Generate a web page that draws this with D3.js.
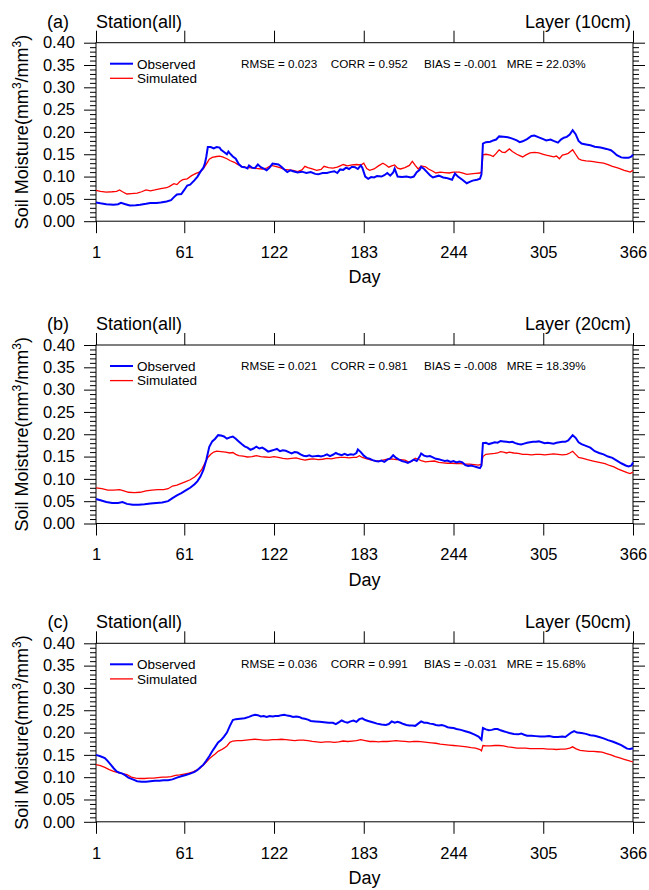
<!DOCTYPE html>
<html>
<head>
<meta charset="utf-8">
<script src="https://cdn.jsdelivr.net/npm/d3@7"></script>
<style>
  body { margin: 0; background: #fff; }
  svg { display: block; font-family: "Liberation Sans", Arial, Helvetica, sans-serif; }
</style>
</head>
<body>
<div id="chart"></div>
<script>
const WIDTH = 649;
const HEIGHT = 890;

const DAY_TICKS = [1, 61, 122, 183, 244, 305, 366];
const Y_TICKS = [0, 0.05, 0.10, 0.15, 0.20, 0.25, 0.30, 0.35, 0.40];
const Y_MINOR = [0.01,0.02,0.03,0.04,0.06,0.07,0.08,0.09,0.11,0.12,0.13,0.14,0.16,0.17,0.18,0.19,
  0.21,0.22,0.23,0.24,0.26,0.27,0.28,0.29,0.31,0.32,0.33,0.34,0.36,0.37,0.38,0.39];

const PANEL_TAGS = ["(a)", "(b)", "(c)"];
const LAYERS = ["Layer (10cm)", "Layer (20cm)", "Layer (50cm)"];
const SERIES_NAMES = ["Observed", "Simulated"];
const STATS = [
  ["RMSE = 0.023", "CORR = 0.952", "BIAS = -0.001", "MRE = 22.03%"],
  ["RMSE = 0.021", "CORR = 0.981", "BIAS = -0.008", "MRE = 18.39%"],
  ["RMSE = 0.036", "CORR = 0.991", "BIAS = -0.031", "MRE = 15.68%"]
];

// [day, soil moisture]
const obs10 = [[1,.042],[4,.040],[8,.038],[13,.037],[16,.038],[18,.041],[21,.038],[24,.035],[28,.036],[31,.037],[35,.039],[38,.041],[42,.041],[45,.042],[49,.044],[52,.047],[54,.054],[56,.060],[59,.061],[61,.070],[63,.080],[65,.082],[68,.092],[70,.100],[72,.111],[74,.120],[75,.129],[76,.145],[77,.166],[79,.166],[81,.163],[83,.166],[85,.165],[86,.160],[88,.155],[90,.150],[91,.156],[92,.152],[94,.145],[96,.140],[98,.128],[100,.122],[102,.121],[104,.118],[105,.125],[107,.120],[109,.119],[111,.127],[113,.121],[115,.118],[117,.114],[119,.120],[121,.129],[123,.128],[125,.127],[127,.122],[129,.116],[131,.110],[133,.114],[135,.112],[138,.109],[141,.111],[144,.108],[147,.110],[150,.106],[152,.105],[155,.108],[158,.108],[160,.110],[163,.112],[165,.108],[167,.116],[169,.115],[171,.120],[173,.117],[175,.122],[177,.121],[179,.117],[181,.125],[182,.120],[184,.100],[186,.095],[188,.099],[190,.098],[192,.101],[195,.100],[197,.103],[199,.108],[201,.102],[203,.109],[204,.118],[206,.100],[209,.099],[212,.100],[215,.098],[217,.100],[219,.110],[221,.115],[222,.122],[224,.117],[226,.110],[228,.103],[230,.098],[232,.100],[234,.102],[237,.098],[239,.097],[241,.095],[243,.093],[245,.107],[247,.100],[250,.093],[253,.085],[255,.088],[257,.091],[260,.093],[262,.095],[263,.105],[264,.174],[266,.177],[269,.178],[271,.181],[273,.183],[275,.190],[278,.189],[281,.188],[284,.185],[287,.181],[289,.177],[291,.179],[294,.184],[297,.191],[299,.192],[302,.188],[305,.184],[307,.181],[310,.183],[312,.180],[315,.176],[317,.183],[319,.187],[321,.189],[323,.194],[325,.204],[327,.195],[329,.180],[331,.174],[334,.172],[337,.170],[340,.167],[344,.165],[348,.162],[351,.159],[353,.154],[355,.148],[358,.143],[360,.142],[363,.142],[365,.145],[366,.149]];
const sim10 = [[1,.069],[4,.067],[8,.065],[12,.066],[15,.067],[17,.070],[19,.066],[22,.061],[25,.062],[29,.063],[32,.066],[35,.070],[38,.068],[41,.070],[45,.073],[49,.075],[51,.078],[54,.084],[56,.082],[58,.089],[60,.093],[63,.095],[66,.102],[69,.107],[72,.111],[74,.118],[76,.128],[78,.139],[80,.143],[83,.145],[85,.146],[87,.144],[90,.140],[92,.136],[95,.132],[97,.128],[100,.123],[102,.121],[105,.120],[108,.119],[111,.118],[114,.117],[117,.119],[120,.125],[123,.123],[126,.120],[129,.116],[132,.115],[135,.114],[138,.111],[141,.115],[143,.123],[145,.120],[148,.117],[151,.114],[154,.116],[156,.123],[159,.120],[162,.119],[165,.121],[167,.124],[169,.127],[172,.124],[175,.126],[178,.127],[181,.126],[183,.130],[185,.118],[187,.114],[190,.117],[193,.124],[196,.130],[198,.126],[200,.121],[202,.124],[204,.126],[206,.119],[208,.117],[211,.120],[214,.125],[216,.134],[218,.125],[220,.117],[222,.124],[225,.122],[227,.117],[230,.112],[232,.108],[235,.110],[238,.109],[241,.108],[244,.110],[248,.110],[251,.107],[253,.105],[256,.106],[259,.107],[262,.108],[263,.110],[264,.149],[266,.150],[269,.148],[271,.145],[273,.152],[275,.160],[277,.155],[279,.154],[282,.162],[284,.156],[287,.150],[289,.147],[291,.144],[293,.148],[296,.153],[299,.154],[302,.153],[305,.150],[307,.148],[310,.146],[312,.144],[314,.146],[316,.140],[318,.148],[320,.150],[322,.152],[325,.160],[327,.150],[329,.140],[331,.137],[334,.135],[338,.134],[342,.132],[346,.130],[349,.127],[352,.123],[355,.120],[357,.118],[360,.114],[362,.112],[364,.110],[366,.114]];

const obs20 = [[1,.055],[4,.052],[8,.048],[12,.046],[16,.046],[19,.048],[22,.044],[26,.042],[30,.042],[34,.043],[38,.045],[42,.046],[46,.047],[50,.050],[53,.057],[56,.063],[59,.068],[62,.074],[65,.080],[68,.088],[70,.095],[72,.105],[74,.120],[76,.143],[78,.172],[80,.184],[82,.190],[84,.198],[86,.197],[88,.195],[90,.190],[92,.193],[94,.195],[96,.190],[98,.184],[100,.178],[102,.173],[104,.170],[106,.165],[108,.168],[110,.172],[112,.168],[114,.170],[116,.166],[118,.161],[120,.163],[122,.165],[124,.167],[126,.162],[128,.164],[130,.163],[132,.160],[134,.157],[136,.160],[138,.159],[140,.155],[142,.152],[144,.151],[146,.153],[148,.150],[150,.151],[152,.152],[154,.150],[156,.152],[158,.155],[160,.151],[162,.154],[164,.158],[166,.155],[168,.153],[170,.156],[172,.153],[174,.155],[176,.154],[178,.158],[179,.166],[181,.160],[183,.152],[185,.147],[187,.145],[189,.142],[191,.140],[193,.139],[195,.141],[197,.138],[199,.143],[201,.146],[203,.153],[205,.147],[207,.143],[209,.140],[211,.138],[213,.136],[215,.139],[217,.143],[219,.140],[221,.150],[222,.157],[224,.152],[226,.150],[228,.151],[230,.148],[232,.145],[234,.144],[236,.142],[238,.140],[240,.141],[242,.138],[244,.140],[246,.137],[248,.139],[250,.137],[252,.131],[254,.129],[256,.130],[258,.128],[260,.126],[262,.124],[263,.130],[264,.180],[266,.181],[268,.178],[270,.180],[272,.182],[274,.181],[276,.185],[278,.184],[280,.183],[282,.182],[284,.183],[286,.180],[288,.178],[290,.177],[292,.179],[294,.181],[296,.182],[298,.183],[300,.183],[302,.184],[304,.182],[306,.180],[308,.181],[310,.180],[312,.179],[314,.181],[316,.182],[318,.183],[320,.183],[322,.186],[324,.194],[325,.198],[327,.192],[329,.182],[331,.178],[334,.174],[337,.170],[340,.162],[343,.158],[346,.155],[349,.150],[352,.147],[355,.141],[358,.135],[361,.130],[363,.128],[365,.130],[366,.137]];
const sim20 = [[1,.080],[5,.078],[9,.075],[13,.075],[17,.076],[20,.073],[23,.070],[27,.069],[31,.070],[35,.073],[39,.075],[43,.076],[47,.076],[50,.078],[53,.084],[56,.086],[59,.090],[62,.094],[65,.098],[68,.104],[71,.113],[73,.122],[75,.135],[77,.148],[79,.155],[81,.160],[83,.162],[86,.161],[89,.160],[92,.158],[94,.159],[96,.155],[98,.152],[101,.151],[104,.149],[107,.150],[110,.152],[113,.150],[116,.149],[119,.148],[122,.150],[125,.148],[128,.146],[131,.145],[134,.146],[137,.147],[140,.144],[143,.142],[146,.144],[149,.145],[152,.143],[155,.144],[158,.146],[161,.145],[164,.147],[167,.148],[170,.148],[173,.147],[176,.148],[178,.148],[180,.152],[182,.148],[184,.146],[187,.143],[190,.141],[193,.140],[196,.142],[199,.144],[202,.145],[205,.143],[208,.143],[211,.142],[214,.137],[216,.140],[218,.146],[220,.144],[222,.141],[225,.138],[228,.139],[231,.140],[234,.137],[237,.136],[240,.135],[243,.135],[246,.134],[249,.134],[252,.133],[255,.133],[258,.132],[261,.131],[263,.133],[264,.150],[266,.155],[269,.156],[272,.157],[274,.158],[276,.161],[278,.160],[280,.158],[282,.160],[285,.158],[288,.157],[291,.155],[294,.155],[297,.154],[300,.155],[303,.155],[306,.154],[309,.155],[312,.156],[315,.155],[318,.154],[321,.155],[323,.158],[325,.162],[327,.155],[329,.148],[332,.146],[335,.143],[339,.140],[343,.137],[347,.134],[350,.130],[353,.127],[356,.122],[359,.118],[362,.114],[364,.112],[366,.115]];

const obs50 = [[1,.150],[4,.147],[7,.143],[9,.136],[11,.128],[13,.120],[15,.113],[17,.110],[19,.108],[21,.104],[23,.099],[26,.095],[29,.091],[32,.090],[35,.090],[38,.091],[41,.092],[44,.092],[47,.093],[50,.093],[53,.095],[56,.099],[59,.102],[62,.105],[65,.108],[68,.112],[70,.116],[72,.122],[74,.128],[76,.137],[78,.147],[80,.158],[82,.168],[84,.178],[86,.183],[88,.191],[90,.200],[92,.215],[94,.228],[96,.230],[99,.231],[102,.232],[105,.235],[107,.238],[109,.240],[111,.239],[113,.236],[115,.237],[117,.235],[119,.237],[121,.236],[123,.237],[125,.237],[127,.239],[129,.240],[131,.238],[133,.237],[135,.235],[137,.236],[139,.235],[141,.232],[143,.231],[145,.229],[147,.226],[150,.225],[153,.224],[156,.223],[159,.222],[162,.222],[164,.219],[166,.223],[168,.227],[170,.224],[172,.222],[174,.225],[176,.227],[178,.224],[180,.230],[182,.232],[184,.228],[186,.226],[189,.223],[192,.220],[195,.218],[198,.217],[200,.219],[202,.225],[204,.222],[206,.224],[208,.222],[210,.219],[212,.217],[214,.216],[216,.216],[218,.215],[220,.220],[222,.225],[224,.222],[226,.222],[228,.220],[230,.219],[232,.217],[234,.216],[236,.217],[238,.215],[240,.212],[242,.211],[244,.210],[246,.208],[249,.206],[252,.203],[255,.200],[258,.196],[261,.191],[263,.184],[264,.210],[266,.207],[268,.205],[270,.206],[272,.208],[274,.208],[276,.205],[278,.203],[280,.201],[282,.199],[285,.197],[288,.196],[290,.198],[292,.195],[294,.193],[297,.193],[300,.192],[303,.191],[306,.191],[309,.192],[312,.190],[315,.190],[318,.191],[320,.190],[322,.195],[324,.200],[326,.203],[328,.200],[331,.199],[334,.197],[337,.194],[340,.193],[343,.190],[346,.187],[349,.183],[352,.180],[355,.176],[358,.172],[360,.168],[362,.164],[364,.163],[366,.165]];
const sim50 = [[1,.128],[4,.126],[7,.122],[10,.117],[13,.113],[16,.110],[19,.108],[22,.106],[25,.100],[28,.098],[31,.097],[34,.097],[37,.098],[40,.098],[43,.099],[46,.100],[49,.100],[52,.101],[55,.104],[58,.105],[61,.107],[64,.109],[67,.112],[70,.117],[72,.121],[74,.127],[76,.134],[78,.141],[80,.147],[82,.152],[84,.158],[86,.161],[88,.165],[90,.170],[92,.178],[94,.181],[97,.182],[100,.182],[103,.183],[106,.184],[109,.185],[112,.184],[115,.183],[118,.183],[121,.184],[124,.184],[127,.185],[130,.184],[133,.183],[136,.182],[139,.183],[142,.183],[145,.182],[148,.180],[151,.179],[154,.178],[157,.179],[160,.179],[163,.178],[166,.179],[169,.181],[172,.180],[175,.181],[178,.182],[181,.184],[184,.182],[187,.180],[190,.180],[193,.179],[196,.180],[199,.180],[202,.181],[205,.182],[208,.181],[211,.180],[214,.179],[217,.180],[220,.180],[223,.179],[226,.178],[229,.177],[232,.176],[235,.174],[238,.173],[241,.172],[244,.171],[247,.170],[250,.169],[253,.168],[256,.166],[259,.165],[262,.162],[263,.159],[264,.171],[266,.170],[269,.170],[272,.171],[275,.171],[278,.170],[281,.168],[284,.167],[287,.165],[290,.165],[293,.165],[296,.164],[299,.164],[302,.164],[305,.164],[308,.163],[311,.163],[314,.162],[317,.163],[320,.163],[323,.165],[325,.168],[327,.164],[330,.160],[333,.159],[336,.158],[339,.158],[342,.157],[345,.156],[348,.153],[351,.150],[354,.146],[357,.143],[360,.140],[363,.137],[366,.134]];

const OBS = [obs10, obs20, obs50];
const SIM = [sim10, sim20, sim50];

const OBS_COLOR = "#0000ff";
const SIM_COLOR = "#ff0000";

// panel boxes (pixels)
const PANEL_TOP = [42.7, 345, 643.3];
const PANEL_H = 178.5;
const PANEL_LEFT = 96;
const PANEL_RIGHT = 633;

const svg = d3.select("#chart").append("svg")
  .attr("width", WIDTH)
  .attr("height", HEIGHT)
  .attr("viewBox", `0 0 ${WIDTH} ${HEIGHT}`);

const x = d3.scaleLinear().domain([1, 366]).range([PANEL_LEFT, PANEL_RIGHT]);

function styleAxis(g) {
  g.select(".domain").remove();
  g.selectAll(".tick line").attr("stroke", "#000").attr("stroke-width", 1);
  g.selectAll(".tick text").attr("fill", "#000");
}

PANEL_TOP.forEach((top, i) => {
  const bottom = top + PANEL_H;
  const y = d3.scaleLinear().domain([0, 0.4]).range([bottom, top]);
  const g = svg.append("g");

  // axes: left with labels, others mirrored
  g.append("g").attr("transform", `translate(${PANEL_LEFT},0)`)
    .call(d3.axisLeft(y).tickValues(Y_MINOR).tickSize(6).tickFormat(""))
    .call(styleAxis);
  g.append("g").attr("transform", `translate(${PANEL_RIGHT},0)`)
    .call(d3.axisRight(y).tickValues(Y_MINOR).tickSize(6).tickFormat(""))
    .call(styleAxis);
  g.append("g").attr("transform", `translate(${PANEL_LEFT},0)`)
    .call(d3.axisLeft(y).tickValues(Y_TICKS).tickSize(12).tickPadding(9).tickFormat(d3.format(".2f")))
    .call(styleAxis)
    .selectAll("text").attr("font-size", 16.5).attr("font-family", null);
  g.append("g").attr("transform", `translate(${PANEL_RIGHT},0)`)
    .call(d3.axisRight(y).tickValues(Y_TICKS).tickSize(12).tickFormat(""))
    .call(styleAxis);
  g.append("g").attr("transform", `translate(0,${bottom})`)
    .call(d3.axisBottom(x).tickValues(DAY_TICKS).tickSize(12).tickPadding(13).tickFormat(d3.format("d")))
    .call(styleAxis)
    .selectAll("text").attr("font-size", 16.5).attr("font-family", null);
  g.append("g").attr("transform", `translate(0,${top})`)
    .call(d3.axisTop(x).tickValues(DAY_TICKS).tickSize(12).tickFormat(""))
    .call(styleAxis);

  // frame
  g.append("rect")
    .attr("x", PANEL_LEFT).attr("y", top)
    .attr("width", PANEL_RIGHT - PANEL_LEFT).attr("height", PANEL_H)
    .attr("fill", "none").attr("stroke", "#000").attr("stroke-width", 1);

  // series
  const line = d3.line().x(d => x(d[0])).y(d => y(d[1]));
  g.append("path").datum(SIM[i]).attr("d", line)
    .attr("fill", "none").attr("stroke", SIM_COLOR).attr("stroke-width", 1.3);
  g.append("path").datum(OBS[i]).attr("d", line)
    .attr("fill", "none").attr("stroke", OBS_COLOR).attr("stroke-width", 2);

  // titles
  g.append("text").attr("x", 58).attr("y", top - 15)
    .attr("text-anchor", "middle").attr("font-size", 18).text(PANEL_TAGS[i]);
  g.append("text").attr("x", PANEL_LEFT).attr("y", top - 15)
    .attr("font-size", 18).text("Station(all)");
  g.append("text").attr("x", PANEL_RIGHT - 2).attr("y", top - 15)
    .attr("text-anchor", "end").attr("font-size", 18).text(LAYERS[i]);

  // axis titles
  g.append("text").attr("x", (PANEL_LEFT + PANEL_RIGHT) / 2).attr("y", bottom + 62)
    .attr("text-anchor", "middle").attr("font-size", 18).text("Day");
  const yt = g.append("text")
    .attr("transform", `translate(28,${top + PANEL_H / 2}) rotate(-90)`)
    .attr("text-anchor", "middle").attr("font-size", 18);
  yt.append("tspan").text("Soil Moisture(mm");
  yt.append("tspan").attr("dy", -7).attr("font-size", 12).text("3");
  yt.append("tspan").attr("dy", 7).text("/mm");
  yt.append("tspan").attr("dy", -7).attr("font-size", 12).text("3");
  yt.append("tspan").attr("dy", 7).text(")");

  // legend
  [OBS_COLOR, SIM_COLOR].forEach((c, k) => {
    const ly = top + 21 + k * 14.6;
    g.append("line").attr("x1", PANEL_LEFT + 14).attr("x2", PANEL_LEFT + 37)
      .attr("y1", ly).attr("y2", ly)
      .attr("stroke", c).attr("stroke-width", k === 0 ? 2 : 1.3);
    g.append("text").attr("x", PANEL_LEFT + 41).attr("y", ly + 4.8)
      .attr("font-size", 13.5).text(SERIES_NAMES[k]);
  });

  // statistics
  const statX = [145, 234.7, 328, 410.7];
  STATS[i].forEach((s, k) => {
    g.append("text").attr("x", PANEL_LEFT + statX[k]).attr("y", top + 25)
      .attr("font-size", 11.7).text(s);
  });
});
</script>
</body>
</html>
